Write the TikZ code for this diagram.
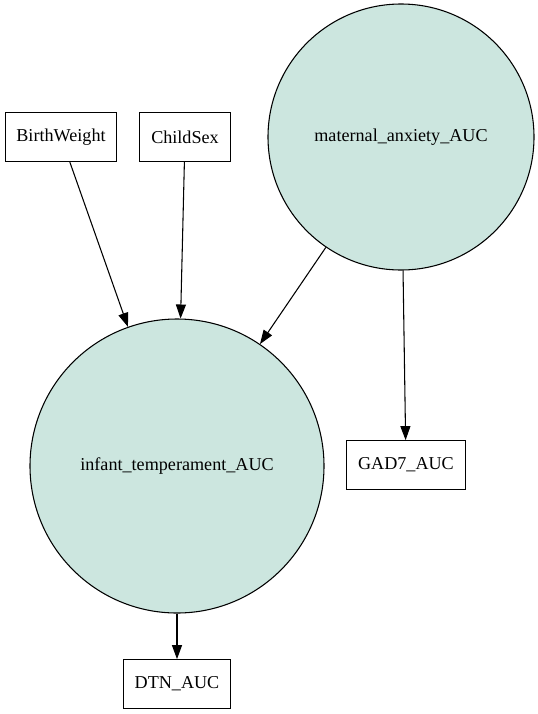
\documentclass[tikz,border=0pt]{standalone}
\usepackage{fontspec}
\setmainfont{Liberation Serif}
\usepackage{xcolor}
\usepackage{tikz}
\usetikzlibrary{arrows.meta}
\definecolor{latentfill}{RGB}{204,230,223}

\begin{document}
\begin{tikzpicture}[x=0.75pt, y=-0.75pt,
    every node/.style = {font=\fontsize{13.6}{16}\selectfont},
    latent/.style = {circle, draw, thick, fill=latentfill, inner sep=0pt},
    observed/.style = {rectangle, draw, thick, inner xsep=8.5pt, minimum height=36.5pt}]
    \useasboundingbox (0,0) rectangle (538,714);

    \node (bw) [observed] at (61,137) {BirthWeight};
    \node (sex) [observed] at (185,137) {ChildSex};
    \node (anx) [latent, minimum size=199.5pt] at (401,137) {maternal\_anxiety\_AUC};

    \node (temp) [latent, minimum size=220.5pt] at (177,466) {infant\_temperament\_AUC};
    \node (gad) [observed] at (406,465) {GAD7\_AUC};

    \node (dtn) [observed] at (177,684) {DTN\_AUC};

\path [-{Triangle[length=10.5pt, width=7.5pt]}, thick]
    (bw) edge (temp)
    (sex) edge (temp)
    (anx) edge (temp)
    (anx) edge (gad)
    (temp) edge (dtn);

\end{tikzpicture}
\end{document}
